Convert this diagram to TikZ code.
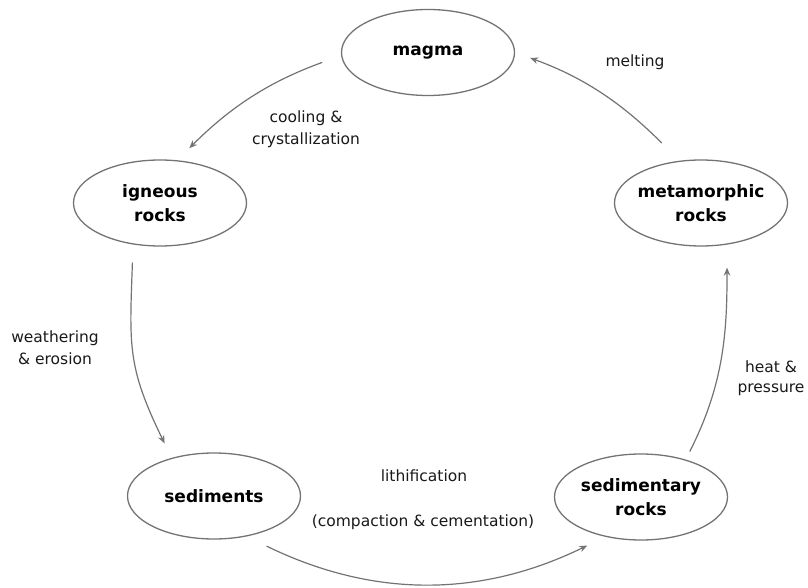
\documentclass[tikz,border=0pt]{standalone}
\usepackage{fontspec}
\setmainfont{DejaVu Sans}
\usetikzlibrary{shapes.geometric,arrows.meta}
\begin{document}
\begin{tikzpicture}[x=1pt,y=1pt,
  rock/.style={ellipse, draw=black!55, line width=1.3pt, minimum width=173pt,
    minimum height=86pt, inner xsep=-25pt, inner ysep=0pt, align=center,
    font=\fontsize{17pt}{24pt}\selectfont\bfseries},
  lbl/.style={align=center, text=black!90, font=\fontsize{15.5pt}{22pt}\selectfont},
  conn/.style={draw=black!55, line width=1.2pt, -{Stealth[length=8pt,width=6.5pt]}}]
\useasboundingbox (0,0) rectangle (808,587);
% nodes
\node[rock] (magma) at (428,534.5) {magma};
\node[rock] (igneous) at (160,384) {igneous\\rocks};
\node[rock] (sediments) at (214,91) {sediments};
\node[rock] (sedimentary) at (641,90) {sedimentary\\rocks};
\node[rock] (metamorphic) at (701,384) {metamorphic\\rocks};
% labels
\node[lbl] (lcool) at (306,458) {cooling \&\\crystallization};
\node[lbl] (lmelt) at (635,525) {melting};
\node[lbl] (lweath) at (55,239) {weathering\\\& erosion};
\node[lbl, font=\fontsize{15.5pt}{20pt}\selectfont] (lheat) at (771,209) {heat \&\\pressure};
\node[lbl] (llith) at (424,111) {lithification};
\node[lbl] (lcomp) at (423,65) {(compaction \& cementation)};
% connectors
\draw[conn, shorten <=20pt, shorten >=17pt] (magma.182) to[out=200,in=45] (igneous.68);
\draw[conn, shorten <=18pt, shorten >=16pt] (igneous.237) to[out=268,in=116,looseness=1.2] (sediments.138);
\draw[conn, shorten <=22pt, shorten >=20pt] (sediments.309) to[out=-26,in=206] (sedimentary.228);
\draw[conn, shorten <=9pt, shorten >=23pt] (sedimentary.40) to[out=63,in=270] (metamorphic.302);
\draw[conn, shorten <=25pt, shorten >=16pt] (metamorphic.117) to[out=135,in=-20] (magma.east);
\end{tikzpicture}
\end{document}
